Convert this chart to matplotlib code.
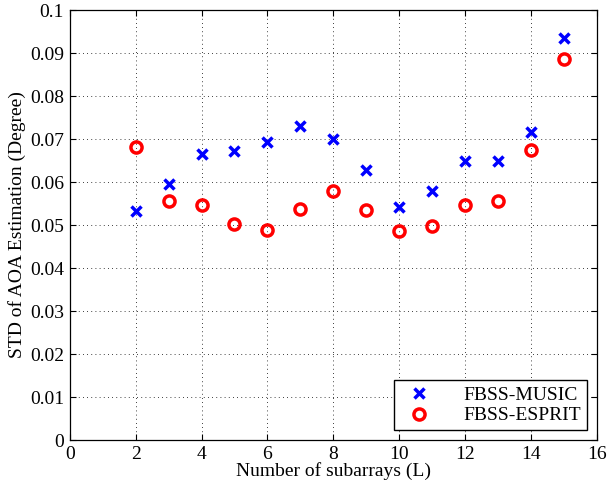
import matplotlib
matplotlib.use("Agg")
import matplotlib.pyplot as plt

# number of subarrays
L = [2, 3, 4, 5, 6, 7, 8, 9, 10, 11, 12, 13, 14, 15]

# STD of AOA estimation (degree)
music = [0.0532, 0.0595, 0.0665, 0.0672, 0.0693, 0.0731, 0.0699,
         0.0627, 0.0542, 0.0580, 0.0649, 0.0650, 0.0717, 0.0936]
esprit = [0.0682, 0.0555, 0.0547, 0.0502, 0.0488, 0.0538, 0.0580,
          0.0536, 0.0487, 0.0498, 0.0547, 0.0555, 0.0675, 0.0886]

plt.rcParams['font.family'] = ['Liberation Serif', 'DejaVu Serif']

fig = plt.figure(figsize=(6.08, 4.93), dpi=100)
ax = fig.add_axes([0.1146, 0.1075, 0.8674, 0.8722])

ax.plot(L, music, linestyle='none', marker='x', color='blue',
        markersize=7, markeredgewidth=2.5, label='FBSS-MUSIC')
ax.plot(L, esprit, linestyle='none', marker='o', color='red',
        markerfacecolor='none', markersize=8, markeredgewidth=2.5,
        label='FBSS-ESPRIT')

ax.set_xlim(0, 16)
ax.set_ylim(0, 0.1)
ax.set_xticks(range(0, 17, 2))
ax.set_yticks([i / 100 for i in range(11)])
ax.set_yticklabels(['0', '0.01', '0.02', '0.03', '0.04', '0.05',
                    '0.06', '0.07', '0.08', '0.09', '0.1'])

ax.grid(True, color='black', linestyle=(0, (1, 4)), linewidth=0.6)
ax.tick_params(direction='in', top=True, right=True, labelsize=14,
               length=4, width=0.8, pad=4)
for sp in ax.spines.values():
    sp.set_linewidth(0.9)

ax.set_xlabel('Number of subarrays (L)', fontsize=14, labelpad=0)
ax.set_ylabel('STD of AOA Estimation (Degree)', fontsize=14, labelpad=3)

leg = ax.legend(loc='lower right', fontsize=14, fancybox=False,
                edgecolor='black', framealpha=1, borderaxespad=0.5,
                handletextpad=1.3, borderpad=0.3, labelspacing=0.15)
leg.get_frame().set_linewidth(1.0)

fig.savefig('out.png', dpi=100)
